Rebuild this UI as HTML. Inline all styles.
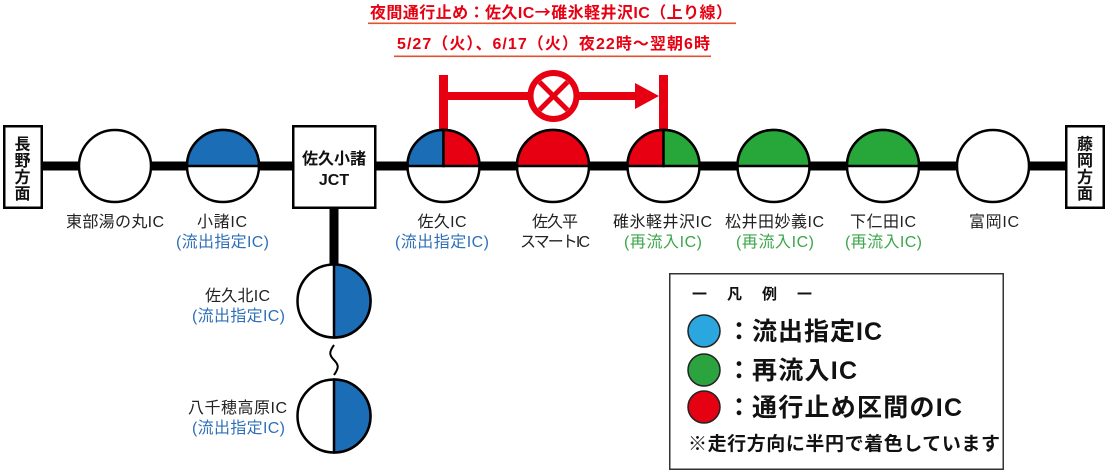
<!DOCTYPE html>
<html><head><meta charset="utf-8"><style>
html,body{margin:0;padding:0;background:#fff;}
svg{display:block;}
text{font-family:"Liberation Sans","Noto Sans CJK JP",sans-serif;}
.j{font-family:"Noto Sans CJK JP",sans-serif;}
</style></head><body>
<svg width="1107" height="472" viewBox="0 0 1107 472" xmlns="http://www.w3.org/2000/svg">
<!-- Title -->
<g fill="#e60012" font-weight="bold" font-size="16">
<text x="370" y="18" textLength="362">夜間通行止め：佐久IC<tspan class="j">→</tspan>碓氷軽井沢IC（上り線）</text>
<text x="397" y="49" textLength="313">5/27（火）、6/17（火）夜22時～翌朝6時</text>
</g>
<rect x="368" y="22.5" width="368" height="1.6" fill="#e2502f"/>
<rect x="394" y="55.5" width="317" height="1.6" fill="#e2502f"/>

<!-- red closure arrow -->
<rect x="439" y="75" width="9" height="57" fill="#e60012"/>
<rect x="659" y="75" width="9" height="57" fill="#e60012"/>
<rect x="448" y="92" width="188" height="8" fill="#e60012"/>
<polygon points="635,83 659,96 635,109" fill="#e60012"/>
<circle cx="553.5" cy="96" r="23" fill="#fff" stroke="#e60012" stroke-width="6"/>
<g stroke="#e60012" stroke-width="5">
<line x1="539.5" y1="82" x2="567.5" y2="110"/>
<line x1="567.5" y1="82" x2="539.5" y2="110"/>
</g>

<!-- main line -->
<rect x="42" y="161.5" width="1023" height="9" fill="#000"/>
<!-- vertical connector -->
<rect x="329.5" y="208" width="9" height="58" fill="#000"/>

<!-- boxes -->
<rect x="4.25" y="126.25" width="37.5" height="81.5" fill="#fff" stroke="#000" stroke-width="2.5"/>
<g font-size="16" font-weight="bold" text-anchor="middle" fill="#111">
<text x="22.5" y="149.5">長</text>
<text x="22.5" y="166">野</text>
<text x="22.5" y="182.5">方</text>
<text x="22.5" y="199">面</text>
</g>
<rect x="1066.25" y="126.25" width="37.5" height="81.5" fill="#fff" stroke="#000" stroke-width="2.5"/>
<g font-size="16" font-weight="bold" text-anchor="middle" fill="#111">
<text x="1085" y="149.5">藤</text>
<text x="1085" y="166">岡</text>
<text x="1085" y="182.5">方</text>
<text x="1085" y="199">面</text>
</g>
<rect x="293.25" y="126.25" width="82" height="81.5" fill="#fff" stroke="#000" stroke-width="2.5"/>
<g font-size="16" font-weight="bold" text-anchor="middle" fill="#111">
<text x="334" y="164">佐久小諸</text>
<text x="334" y="185">JCT</text>
</g>

<!-- main circles -->
<g stroke="#000" stroke-width="2.5">
<circle cx="115" cy="166" r="36" fill="#fff"/>
<circle cx="223" cy="166" r="36" fill="#fff"/>
<path d="M187,166 A36,36 0 0 1 259,166 Z" fill="#1b6db5"/>
<circle cx="443.5" cy="166" r="36" fill="#fff"/>
<path d="M443.5,166 L407.5,166 A36,36 0 0 1 443.5,130 Z" fill="#1b6db5"/>
<path d="M443.5,166 L443.5,130 A36,36 0 0 1 479.5,166 Z" fill="#e60012"/>
<circle cx="553" cy="166" r="36" fill="#fff"/>
<path d="M517,166 A36,36 0 0 1 589,166 Z" fill="#e60012"/>
<circle cx="663.5" cy="166" r="36" fill="#fff"/>
<path d="M663.5,166 L627.5,166 A36,36 0 0 1 663.5,130 Z" fill="#e60012"/>
<path d="M663.5,166 L663.5,130 A36,36 0 0 1 699.5,166 Z" fill="#27a739"/>
<circle cx="773.5" cy="166" r="36" fill="#fff"/>
<path d="M737.5,166 A36,36 0 0 1 809.5,166 Z" fill="#27a739"/>
<circle cx="883" cy="166" r="36" fill="#fff"/>
<path d="M847,166 A36,36 0 0 1 919,166 Z" fill="#27a739"/>
<circle cx="993" cy="166" r="36" fill="#fff"/>

<circle cx="334" cy="301" r="36.5" fill="#fff"/>
<path d="M334,264.5 A36.5,36.5 0 0 1 334,337.5 Z" fill="#1b6db5"/>
<circle cx="334" cy="416" r="36.5" fill="#fff"/>
<path d="M334,379.5 A36.5,36.5 0 0 1 334,452.5 Z" fill="#1b6db5"/>
</g>
<path d="M334,345 C329,352 329,355 334,360 C339,365 339,368 334,375" fill="none" stroke="#000" stroke-width="2"/>

<!-- labels -->
<g font-size="16" text-anchor="middle" fill="#222">
<text x="115" y="227" textLength="98">東部湯の丸IC</text>
<text x="222" y="227" textLength="50">小諸IC</text>
<text x="442" y="227" textLength="49">佐久IC</text>
<text x="555" y="227" textLength="46">佐久平</text>
<text x="555" y="247" textLength="70">スマートIC</text>
<text x="662.5" y="227" textLength="99">碓氷軽井沢IC</text>
<text x="774.5" y="227" textLength="99">松井田妙義IC</text>
<text x="883" y="227" textLength="66">下仁田IC</text>
<text x="994" y="227" textLength="50">富岡IC</text>
<text x="237.5" y="301" textLength="65">佐久北IC</text>
<text x="237.5" y="413" textLength="99">八千穂高原IC</text>
</g>
<g font-size="16" text-anchor="middle" fill="#2f6fb8">
<text x="222.5" y="247" textLength="93">(流出指定IC)</text>
<text x="442" y="247" textLength="94">(流出指定IC)</text>
<text x="238.5" y="321" textLength="93">(流出指定IC)</text>
<text x="238.5" y="433" textLength="93">(流出指定IC)</text>
</g>
<g font-size="16" text-anchor="middle" fill="#3ba64a">
<text x="663" y="247" textLength="78">(再流入IC)</text>
<text x="775" y="247" textLength="78">(再流入IC)</text>
<text x="883.5" y="247" textLength="77">(再流入IC)</text>
</g>

<!-- legend -->
<rect x="669.75" y="273.75" width="333.5" height="195.5" fill="#fff" stroke="#333" stroke-width="1.5"/>
<text x="692" y="299" font-size="15" font-weight="bold" fill="#111" textLength="120">一　凡　例　一</text>
<g stroke="#222" stroke-width="1.5">
<circle cx="704" cy="331" r="16" fill="#2ca6df"/>
<circle cx="704" cy="370" r="16" fill="#2ba33f"/>
<circle cx="704" cy="407" r="16" fill="#e50012"/>
</g>
<g font-size="25" font-weight="bold" fill="#111">
<text x="739" y="340" text-anchor="middle">：</text>
<text x="739" y="379" text-anchor="middle">：</text>
<text x="739" y="416" text-anchor="middle">：</text>
<text x="752" y="340" textLength="130">流出指定IC</text>
<text x="752" y="379" textLength="105">再流入IC</text>
<text x="752" y="416" textLength="210">通行止め区間のIC</text>
</g>
<text x="688" y="450" font-size="19" font-weight="bold" fill="#111" textLength="312">※走行方向に半円で着色しています</text>
</svg>
</body></html>
